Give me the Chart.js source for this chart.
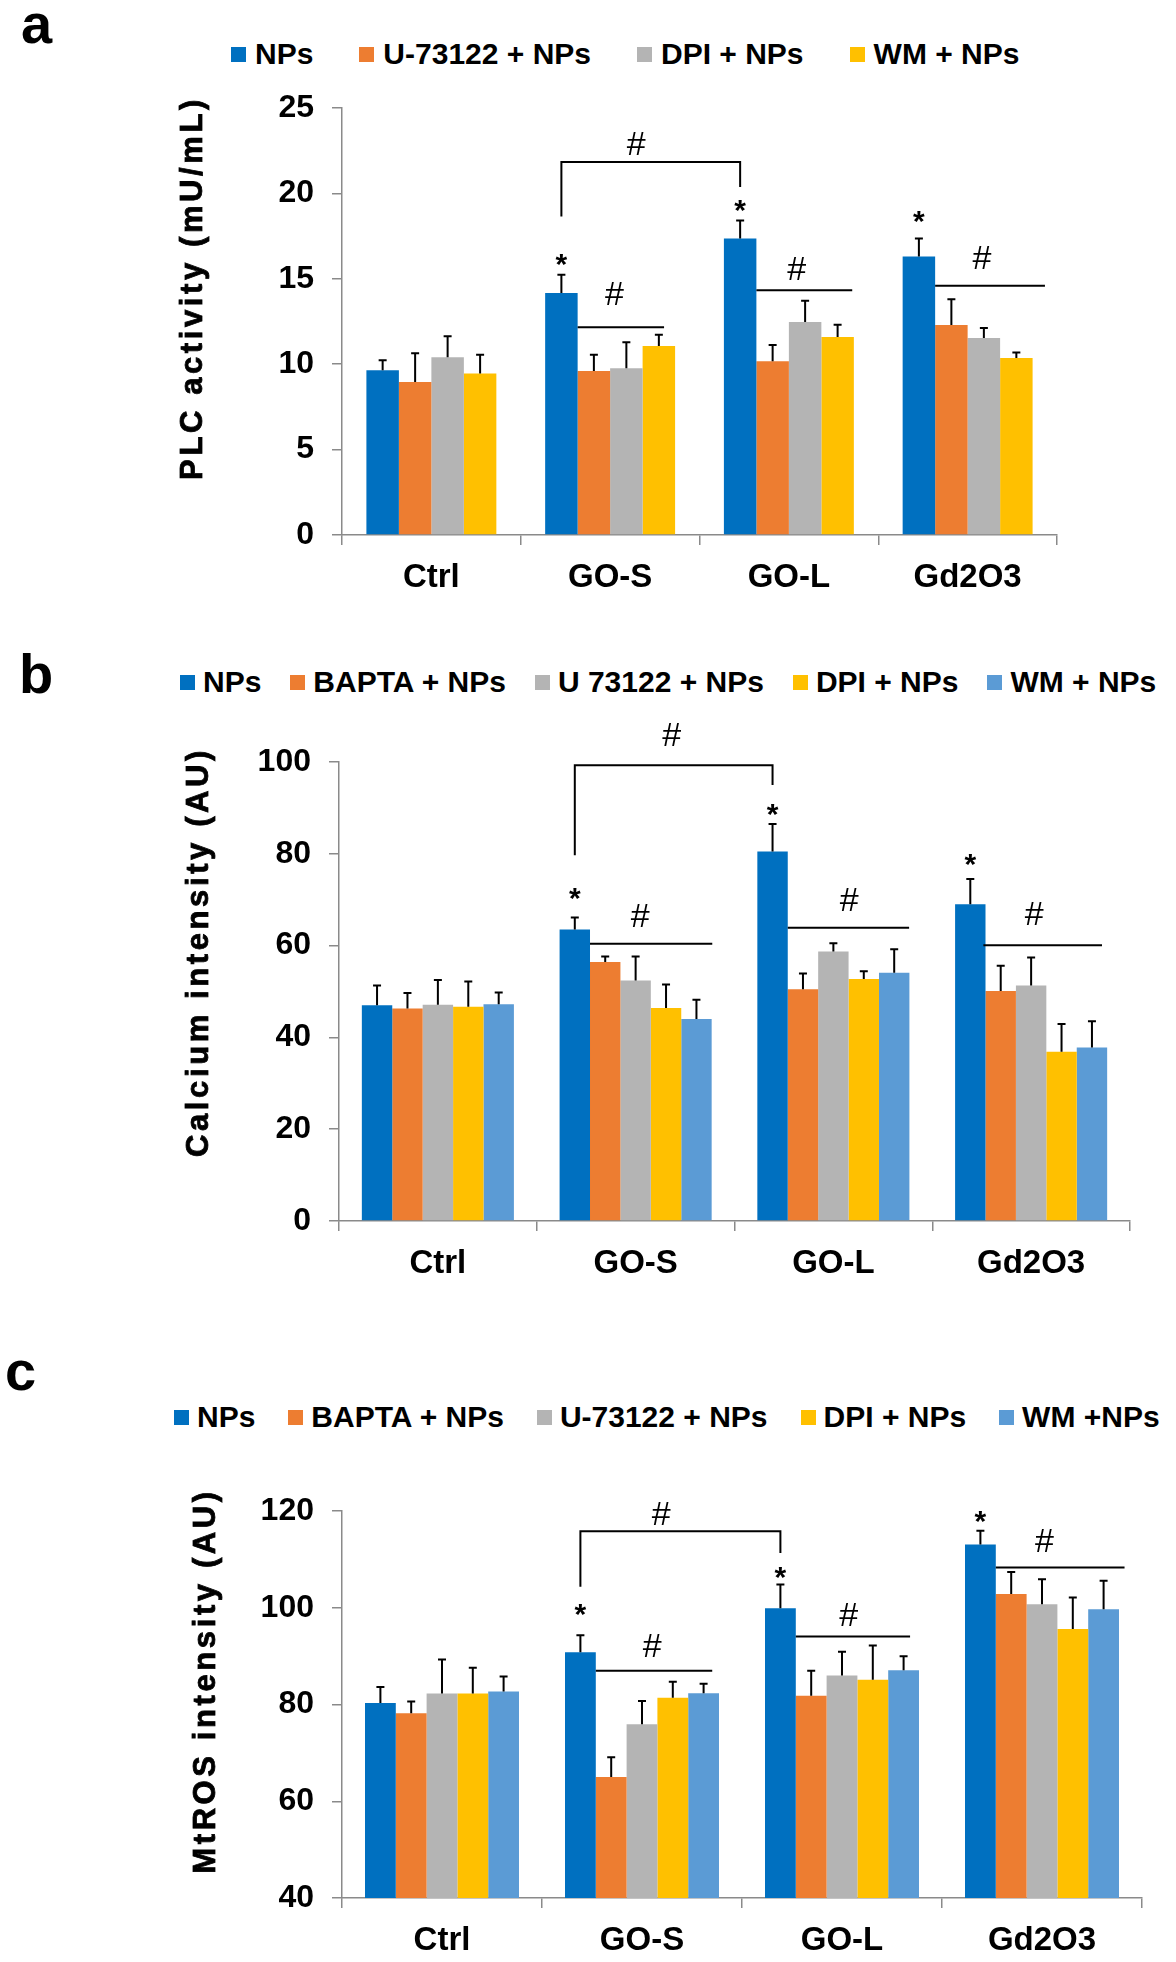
<!DOCTYPE html>
<html>
<head>
<meta charset="utf-8">
<script src="https://cdn.jsdelivr.net/npm/chart.js@4.4.1/dist/chart.umd.min.js"></script>
<style>
  body { margin: 0; background: #fff; }
  #page { position: relative; width: 1176px; height: 1962px; font-family: 'Liberation Sans', Arial, sans-serif; color: #000; }
  canvas { position: absolute; left: 0; }
  .tag { position: absolute; font-weight: bold; font-size: 56px; line-height: 1; }
  .legend { position: absolute; height: 36px; display: flex; align-items: center; font-weight: bold; font-size: 30px; white-space: nowrap; }
  .legend .item { display: flex; align-items: center; }
  .legend .sw { display: inline-block; width: 15px; height: 15px; }
</style>
</head>
<body>
<div id="page">
  <div class="tag" style="left:21px; top:-4px;">a</div>
  <div class="tag" style="left:19px; top:646px;">b</div>
  <div class="tag" style="left:5px; top:1343px;">c</div>
  <div class="legend" id="legA" style="left:231px; top:36px;"></div>
  <div class="legend" id="legB" style="left:180px; top:664px;"></div>
  <div class="legend" id="legC" style="left:174px; top:1399px;"></div>
  <canvas id="chartA" width="1176" height="620" style="top:0px;"></canvas>
  <canvas id="chartB" width="1176" height="690" style="top:620px;"></canvas>
  <canvas id="chartC" width="1176" height="682" style="top:1280px;"></canvas>
</div>
<script>
const categories = ['Ctrl', 'GO-S', 'GO-L', 'Gd2O3'];

// panel a - PLC activity
const plcSeries = ['NPs', 'U-73122 + NPs', 'DPI + NPs', 'WM + NPs'];
const plcNPs = [9.65, 14.17, 17.36, 16.3];
const plcU73122 = [8.96, 9.6, 10.18, 12.3];
const plcDPI = [10.41, 9.76, 12.47, 11.54];
const plcWM = [9.46, 11.06, 11.59, 10.36];
const plcErrNPs = [0.58, 1.07, 1.06, 1.06];
const plcErrU73122 = [1.68, 0.95, 0.95, 1.5];
const plcErrDPI = [1.22, 1.53, 1.25, 0.58];
const plcErrWM = [1.09, 0.67, 0.72, 0.33];
const plcTicks = [0, 5, 10, 15, 20, 25];
const plcStars = [{cat: 1, y: 16.2}, {cat: 2, y: 19.35}, {cat: 3, y: 18.7}];
const plcBracket = {from: 1, to: 2, y: 21.84, dropFrom: 18.65, dropTo: 20.38, markU: 2.3, markY: 22.8};
const plcLines = [
  {cat: 1, u1: 0.5, u2: 3.16, y: 12.17, markU: 1.63, markY: 14.0},
  {cat: 2, u1: 0.5, u2: 3.45, y: 14.33, markU: 1.74, markY: 15.47},
  {cat: 3, u1: 0.5, u2: 3.88, y: 14.59, markU: 1.94, markY: 16.1}
];

// panel b - calcium
const caSeries = ['NPs', 'BAPTA + NPs', 'U 73122 + NPs', 'DPI + NPs', 'WM + NPs'];
const caNPs = [47.0, 63.5, 80.5, 69.0];
const caBAPTA = [46.3, 56.45, 50.5, 50.1];
const caU73122 = [47.1, 52.4, 58.7, 51.3];
const caDPI = [46.7, 46.4, 52.7, 36.9];
const caWM = [47.2, 44.0, 54.1, 37.8];
const caErrNPs = [4.3, 2.6, 6.0, 5.5];
const caErrBAPTA = [3.4, 1.15, 3.4, 5.5];
const caErrU73122 = [5.4, 5.2, 1.8, 6.1];
const caErrDPI = [5.5, 5.1, 1.7, 6.0];
const caErrWM = [2.6, 4.2, 5.1, 5.7];
const caTicks = [0, 20, 40, 60, 80, 100];
const caStars = [{cat: 1, y: 71.6}, {cat: 2, y: 89.75}, {cat: 3, y: 78.9}];
const caBracket = {from: 1, to: 2, y: 99.3, dropFrom: 79.7, dropTo: 95.0, markU: 3.19, markY: 105.5};
const caLines = [
  {cat: 1, u1: 0.5, u2: 4.52, y: 60.4, markU: 2.15, markY: 66.1},
  {cat: 2, u1: 0.5, u2: 4.49, y: 63.9, markU: 2.52, markY: 69.5},
  {cat: 3, u1: 0.43, u2: 4.33, y: 60.1, markU: 2.1, markY: 66.5}
];

// panel c - MtROS
const rosSeries = ['NPs', 'BAPTA + NPs', 'U-73122 + NPs', 'DPI + NPs', 'WM +NPs'];
const rosNPs = [80.3, 90.8, 99.9, 113.1];
const rosBAPTA = [78.2, 65.0, 81.8, 102.85];
const rosU73122 = [82.25, 75.9, 86.0, 100.7];
const rosDPI = [82.25, 81.4, 85.1, 95.6];
const rosWM = [82.7, 82.3, 87.1, 99.7];
const rosErrNPs = [3.3, 3.5, 4.9, 2.8];
const rosErrBAPTA = [2.4, 4.1, 5.2, 4.55];
const rosErrU73122 = [7.05, 4.8, 4.9, 5.2];
const rosErrDPI = [5.35, 3.3, 7.1, 6.5];
const rosErrWM = [3.1, 2.0, 2.9, 5.9];
const rosTicks = [40, 60, 80, 100, 120];
const rosStars = [{cat: 1, y: 99.8}, {cat: 2, y: 107.4}, {cat: 3, y: 119.1}];
const rosBracket = {from: 1, to: 2, y: 115.8, dropFrom: 104.35, dropTo: 111.3, markU: 2.62, markY: 119.1};
const rosLines = [
  {cat: 1, u1: 0.5, u2: 4.28, y: 87.0, markU: 2.33, markY: 91.85},
  {cat: 2, u1: 0.5, u2: 4.21, y: 94.05, markU: 2.22, markY: 98.2},
  {cat: 3, u1: 0.5, u2: 4.68, y: 108.3, markU: 2.08, markY: 113.4}
];

const BLUE = '#0070C0', ORANGE = '#ED7D31', GRAY = '#B4B4B4', YELLOW = '#FFC000', LIGHTBLUE = '#5B9BD5';
const AXIS = '#8a8a8a';
const FONT = "'Liberation Sans', Arial, sans-serif";

// error bars, stars, # brackets and the y title
const annotate = {
  id: 'annotate',
  afterDatasetsDraw(chart, args, o) {
    const ctx = chart.ctx;
    const ys = chart.scales.y;
    const meta0 = chart.getDatasetMeta(0);
    const barX = (cat, u) => meta0.data[cat].x + u * meta0.data[cat].width;
    const py = v => ys.getPixelForValue(v);
    ctx.save();
    ctx.strokeStyle = '#000';
    ctx.fillStyle = '#000';
    ctx.lineWidth = 2;
    chart.data.datasets.forEach((ds, i) => {
      chart.getDatasetMeta(i).data.forEach((bar, j) => {
        const top = py(ds.data[j] + ds.errors[j]);
        ctx.beginPath();
        ctx.moveTo(bar.x, bar.y);
        ctx.lineTo(bar.x, top);
        ctx.moveTo(bar.x - 4, top);
        ctx.lineTo(bar.x + 4, top);
        ctx.stroke();
      });
    });
    ctx.textAlign = 'center';
    ctx.textBaseline = 'middle';
    ctx.font = 'bold 30px ' + FONT;
    o.stars.forEach(s => ctx.fillText('*', barX(s.cat, 0), py(s.y) + 7));
    ctx.font = '34px ' + FONT;
    const b = o.bracket;
    ctx.beginPath();
    ctx.moveTo(barX(b.from, 0), py(b.dropFrom));
    ctx.lineTo(barX(b.from, 0), py(b.y));
    ctx.lineTo(barX(b.to, 0), py(b.y));
    ctx.lineTo(barX(b.to, 0), py(b.dropTo));
    ctx.stroke();
    ctx.fillText('#', barX(b.from, b.markU), py(b.markY));
    o.lines.forEach(l => {
      ctx.beginPath();
      ctx.moveTo(barX(l.cat, l.u1), py(l.y));
      ctx.lineTo(barX(l.cat, l.u2), py(l.y));
      ctx.stroke();
      ctx.fillText('#', barX(l.cat, l.markU), py(l.markY));
    });
    ctx.restore();
  },
  afterDraw(chart, args, o) {
    const ctx = chart.ctx;
    ctx.save();
    ctx.translate(o.titleX, o.titleY);
    ctx.rotate(-Math.PI / 2);
    ctx.font = 'bold 31px ' + FONT;
    ctx.letterSpacing = '3.6px';
    ctx.textAlign = 'center';
    ctx.textBaseline = 'middle';
    ctx.fillStyle = '#000';
    ctx.strokeStyle = '#000';
    ctx.lineWidth = 0.8;
    ctx.fillText(o.title, 0, 0);
    ctx.strokeText(o.title, 0, 0);
    ctx.restore();
  }
};

function fillLegend(id, labels, colors, gap, swGap) {
  const el = document.getElementById(id);
  labels.forEach((lab, i) => {
    const item = document.createElement('span');
    item.className = 'item';
    if (i < labels.length - 1) item.style.marginRight = gap + 'px';
    const sw = document.createElement('span');
    sw.className = 'sw';
    sw.style.background = colors[i];
    sw.style.marginRight = swGap + 'px';
    item.appendChild(sw);
    item.appendChild(document.createTextNode(lab));
    el.appendChild(item);
  });
}

function makePanel(id, p) {
  const datasets = p.series.map((name, i) => ({
    label: name,
    data: p.values[i],
    errors: p.errors[i],
    backgroundColor: p.colors[i],
    borderWidth: 0,
    barPercentage: 1,
    categoryPercentage: p.catPct
  }));
  return new Chart(document.getElementById(id), {
    type: 'bar',
    data: { labels: categories, datasets: datasets },
    plugins: [annotate],
    options: {
      responsive: false,
      animation: false,
      layout: { padding: { left: 0, right: p.padRight, top: p.padTop, bottom: p.padBottom } },
      plugins: {
        legend: { display: false },
        tooltip: { enabled: false },
        annotate: {
          stars: p.stars, bracket: p.bracket, lines: p.lines,
          title: p.title, titleX: p.titleX, titleY: p.titleY
        }
      },
      scales: {
        x: {
          grid: { drawOnChartArea: false, tickLength: 10, color: AXIS, lineWidth: 1.5 },
          border: { color: AXIS, width: 1.5 },
          ticks: { color: '#000', padding: 13, font: { family: FONT, size: 33, weight: 'bold' } },
          afterFit: s => { s.height = p.xHeight; }
        },
        y: {
          min: p.ticks[0],
          max: p.ticks[p.ticks.length - 1],
          grid: { drawOnChartArea: false, tickLength: 10, color: AXIS, lineWidth: 1.5 },
          border: { color: AXIS, width: 1.5 },
          ticks: { stepSize: p.ticks[1] - p.ticks[0], color: '#000', padding: 18, font: { family: FONT, size: 32, weight: 'bold' } },
          afterFit: s => { s.width = p.yWidth; }
        }
      }
    }
  });
}

fillLegend('legA', plcSeries, [BLUE, ORANGE, GRAY, YELLOW], 46, 9);
fillLegend('legB', caSeries, [BLUE, ORANGE, GRAY, YELLOW, LIGHTBLUE], 29, 8);
fillLegend('legC', rosSeries, [BLUE, ORANGE, GRAY, YELLOW, LIGHTBLUE], 33, 8);

makePanel('chartA', {
  series: plcSeries,
  values: [plcNPs, plcU73122, plcDPI, plcWM],
  errors: [plcErrNPs, plcErrU73122, plcErrDPI, plcErrWM],
  colors: [BLUE, ORANGE, GRAY, YELLOW],
  catPct: 0.727, ticks: plcTicks,
  stars: plcStars, bracket: plcBracket, lines: plcLines,
  title: 'PLC activity (mU/mL)', titleX: 193, titleY: 288,
  yWidth: 342, xHeight: 66, padRight: 119, padTop: 108, padBottom: 19
});

makePanel('chartB', {
  series: caSeries,
  values: [caNPs, caBAPTA, caU73122, caDPI, caWM],
  errors: [caErrNPs, caErrBAPTA, caErrU73122, caErrDPI, caErrWM],
  colors: [BLUE, ORANGE, GRAY, YELLOW, LIGHTBLUE],
  catPct: 0.769, ticks: caTicks,
  stars: caStars, bracket: caBracket, lines: caLines,
  title: 'Calcium intensity (AU)', titleX: 199, titleY: 332,
  yWidth: 339, xHeight: 70, padRight: 46, padTop: 142, padBottom: 19
});

makePanel('chartC', {
  series: rosSeries,
  values: [rosNPs, rosBAPTA, rosU73122, rosDPI, rosWM],
  errors: [rosErrNPs, rosErrBAPTA, rosErrU73122, rosErrDPI, rosErrWM],
  colors: [BLUE, ORANGE, GRAY, YELLOW, LIGHTBLUE],
  catPct: 0.77, ticks: rosTicks,
  stars: rosStars, bracket: rosBracket, lines: rosLines,
  title: 'MtROS intensity (AU)', titleX: 206, titleY: 401,
  yWidth: 342, xHeight: 62, padRight: 34, padTop: 231, padBottom: 2
});
</script>
</body>
</html>
